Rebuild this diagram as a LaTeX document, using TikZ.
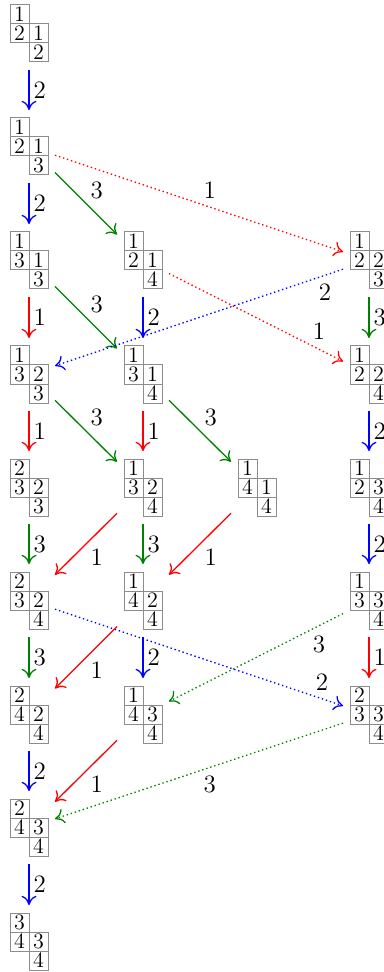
\documentclass[tikz,border=0pt]{standalone}
\usetikzlibrary{arrows.meta}
\begin{document}
\begin{tikzpicture}[x=0.5pt,y=-0.5pt,
  tabbox/.style={rectangle, minimum width=26pt, minimum height=36.5pt, inner sep=0pt, outer sep=0pt},
  cellline/.style={draw=black!45, line width=0.5pt},
  celltext/.style={inner sep=0pt, font=\fontsize{11}{11}\selectfont},
  arr/.style={line width=0.65pt, auto, -{Computer Modern Rightarrow[length=4.6pt,width=7.5pt]}},
  dotarr/.style={dash pattern=on 0.7pt off 1.4pt},
  lab/.style={font=\fontsize{12.5}{12.5}\selectfont, inner sep=2pt, text=black},
  e1/.style={arr, red},
  e2/.style={arr, blue},
  e3/.style={arr, green!50!black}]
\useasboundingbox (0,0) rectangle (384,972);
\newcommand\tabl[7]{%
  \node[tabbox] (#1) at (#2,#3) {};
  \draw[cellline] ({#2-19},{#3-28.5}) rectangle ({#2},{#3-9.5});
  \draw[cellline] ({#2-19},{#3-9.5}) rectangle ({#2},{#3+9.5});
  \draw[cellline] ({#2},{#3-9.5}) rectangle ({#2+19},{#3+9.5});
  \draw[cellline] ({#2},{#3+9.5}) rectangle ({#2+19},{#3+28.5});
  \node[celltext] (#1a) at ({#2-9.5},{#3-19}) {#4};
  \node[celltext] (#1b) at ({#2-9.5},{#3}) {#5};
  \node[celltext] (#1c) at ({#2+9.5},{#3}) {#6};
  \node[celltext] (#1d) at ({#2+9.5},{#3+19}) {#7};
}
\tabl{A1}{29}{33.5}{1}{2}{1}{2}
\tabl{A2}{29}{146.5}{1}{2}{1}{3}
\tabl{A3}{29}{260.5}{1}{3}{1}{3}
\tabl{A4}{29}{374.5}{1}{3}{2}{3}
\tabl{A5}{29}{487.5}{2}{3}{2}{3}
\tabl{A6}{29}{600.5}{2}{3}{2}{4}
\tabl{A7}{29}{714.5}{2}{4}{2}{4}
\tabl{A8}{29}{827.5}{2}{4}{3}{4}
\tabl{A9}{29}{941.5}{3}{4}{3}{4}
\tabl{B3}{143}{260.5}{1}{2}{1}{4}
\tabl{B4}{143}{374.5}{1}{3}{1}{4}
\tabl{B5}{143}{487.5}{1}{3}{2}{4}
\tabl{B6}{143}{600.5}{1}{4}{2}{4}
\tabl{B7}{143}{714.5}{1}{4}{3}{4}
\tabl{C5}{257}{487.5}{1}{4}{1}{4}
\tabl{D3}{369}{260.5}{1}{2}{2}{3}
\tabl{D4}{369}{374.5}{1}{2}{2}{4}
\tabl{D5}{369}{487.5}{1}{2}{3}{4}
\tabl{D6}{369}{600.5}{1}{3}{3}{4}
\tabl{D7}{369}{714.5}{2}{3}{3}{4}
\draw[e2] (A1) -- node[lab]{2} (A2);
\draw[e2] (A2) -- node[lab]{2} (A3);
\draw[e3] (A2) -- node[lab]{3} (B3);
\draw[e1,dotarr] (A2) -- node[lab]{1} (D3);
\draw[e1] (A3) -- node[lab]{1} (A4);
\draw[e3] (A3) -- node[lab]{3} (B4);
\draw[e2] (B3) -- node[lab]{2} (B4);
\draw[e1,dotarr] (B3) -- node[lab,pos=0.8]{1} (D4);
\draw[e2,dotarr] (D3) -- node[lab,pos=0.1]{2} (A4);
\draw[e3] (D3) -- node[lab]{3} (D4);
\draw[e1] (A4) -- node[lab]{1} (A5);
\draw[e3] (A4) -- node[lab]{3} (B5);
\draw[e1] (B4) -- node[lab]{1} (B5);
\draw[e3] (B4) -- node[lab]{3} (C5);
\draw[e2] (D4) -- node[lab]{2} (D5);
\draw[e3] (A5) -- node[lab]{3} (A6);
\draw[e1] (B5) -- node[lab]{1} (A6);
\draw[e3] (B5) -- node[lab]{3} (B6);
\draw[e1] (C5) -- node[lab]{1} (B6);
\draw[e2] (D5) -- node[lab]{2} (D6);
\draw[e3] (A6) -- node[lab]{3} (A7);
\draw[e2,dotarr] (A6) -- node[lab,pos=0.89]{2} (D7);
\draw[e1] (B6) -- node[lab]{1} (A7);
\draw[e2] (B6) -- node[lab]{2} (B7);
\draw[e3,dotarr] (D6) -- node[lab,pos=0.2]{3} (B7);
\draw[e1] (D6) -- node[lab]{1} (D7);
\draw[e2] (A7) -- node[lab]{2} (A8);
\draw[e1] (B7) -- node[lab]{1} (A8);
\draw[e3,dotarr] (D7) -- node[lab]{3} (A8);
\draw[e2] (A8) -- node[lab]{2} (A9);
\end{tikzpicture}
\end{document}
